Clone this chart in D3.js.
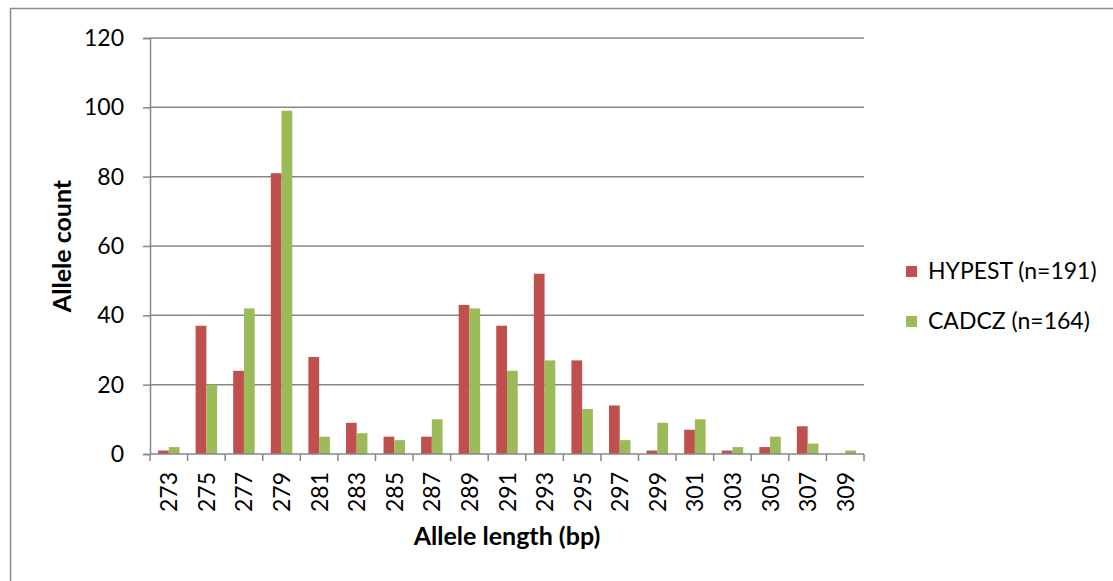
<!DOCTYPE html>
<html><head><meta charset="utf-8">
<script src="https://cdn.jsdelivr.net/npm/d3@7"></script>
<style>body{margin:0;background:#fff}svg{display:block}text{font-family:Lato,"Open Sans",sans-serif}</style>
</head><body><svg id="c" width="1113" height="581"></svg>
<script>
const categories = ["273","275","277","279","281","283","285","287","289","291","293","295","297","299","301","303","305","307","309"];
const hypest = [1,37,24,81,28,9,5,5,43,37,52,27,14,1,7,1,2,8,0];
const cadcz  = [2,20,42,99,5,6,4,10,42,24,27,13,4,9,10,2,5,3,1];
const seriesNames = ["HYPEST (n=191)","CADCZ (n=164)"];
const seriesColors = ["#C0504D","#9BBB59"];
const yTicks = [0,20,40,60,80,100,120];

const svg = d3.select("#c");
svg.append("rect").attr("x",10.5).attr("y",8.5).attr("width",1200).attr("height",700)
  .attr("fill","none").attr("stroke","#8c8c8c").attr("stroke-width",1.5);

const L=150, R=864, T=38, B=454;
const x = d3.scaleBand().domain(categories).range([L,R]).paddingInner(0).paddingOuter(0);
const y = d3.scaleLinear().domain([0,120]).range([B,T]);
const bw = x.bandwidth()/3.5;

// gridlines
svg.append("g").selectAll("line").data(yTicks.filter(d=>d>0)).join("line")
  .attr("x1",L).attr("x2",R).attr("y1",d=>y(d)).attr("y2",d=>y(d))
  .attr("stroke","#878787").attr("stroke-width",1.5);

// y axis
const ya = svg.append("g").attr("transform",`translate(${L},0)`)
  .call(d3.axisLeft(y).tickValues(yTicks).tickSize(7).tickPadding(19));
ya.select(".domain").attr("stroke","#878787").attr("stroke-width",1.5);
ya.selectAll(".tick line").attr("stroke","#878787").attr("stroke-width",1.5);
ya.selectAll("text").attr("font-size",23).attr("fill","#000").attr("font-family","Lato");

// bars
const series = [hypest,cadcz];
series.forEach((vals,si)=>{
  svg.append("g").selectAll("rect").data(vals).join("rect")
    .attr("x",(d,i)=>x(categories[i]) + bw*0.75 + si*bw)
    .attr("width",bw)
    .attr("y",d=>y(d)).attr("height",d=>B-y(d))
    .attr("fill",seriesColors[si]);
});

// x axis
const xa = svg.append("g").attr("transform",`translate(0,${B})`);
xa.append("line").attr("x1",L).attr("x2",R).attr("stroke","#878787").attr("stroke-width",1.5);
const bounds = categories.map(c=>x(c)).concat([R]);
xa.selectAll("line.t").data(bounds).join("line").attr("class","t")
  .attr("x1",d=>d).attr("x2",d=>d).attr("y1",0).attr("y2",7)
  .attr("stroke","#878787").attr("stroke-width",1.5);
xa.selectAll("text").data(categories).join("text")
  .attr("transform",d=>`translate(${x(d)+x.bandwidth()/2+8.5},18) rotate(-90)`)
  .attr("text-anchor","end").attr("font-size",23).attr("fill","#000").text(d=>d);

// axis titles
svg.append("text").attr("transform","translate(71,246) rotate(-90)")
  .attr("text-anchor","middle").attr("font-size",25).attr("font-weight","bold").text("Allele count");
svg.append("text").attr("x",507).attr("y",545)
  .attr("text-anchor","middle").attr("font-size",25).attr("font-weight","bold").text("Allele length (bp)");

// legend
const lg = svg.append("g");
seriesNames.forEach((n,i)=>{
  lg.append("rect").attr("x",906).attr("y",266+i*50).attr("width",11).attr("height",11).attr("fill",seriesColors[i]);
  lg.append("text").attr("x",928).attr("y",279+i*50).attr("font-size",23).attr("fill","#000").text(n);
});
</script></body></html>
